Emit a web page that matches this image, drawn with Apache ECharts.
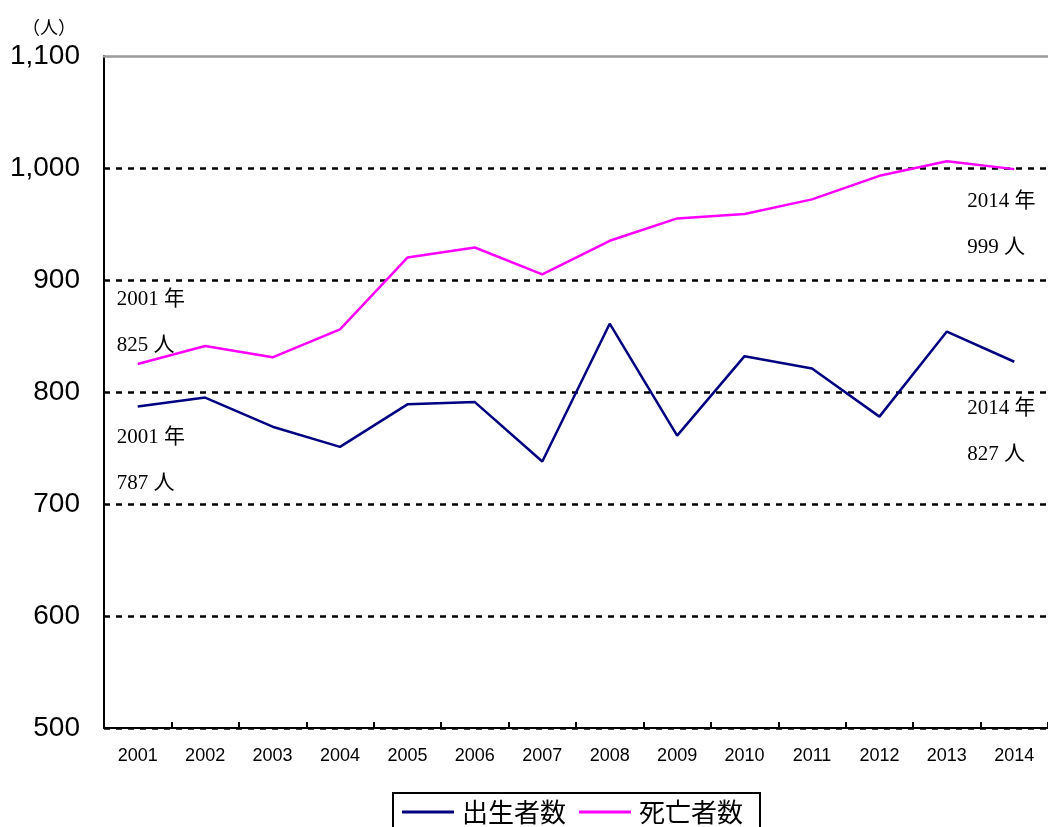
<!DOCTYPE html>
<html>
<head>
<meta charset="utf-8">
<script src="https://cdn.jsdelivr.net/npm/echarts@6/dist/echarts.min.js"></script>
<style>
  html, body { margin: 0; padding: 0; background: #fff; }
  #chart { width: 1048px; height: 827px; }
</style>
</head>
<body>
<div id="chart"></div>
<script>
// 年
const years = ['2001', '2002', '2003', '2004', '2005', '2006', '2007',
  '2008', '2009', '2010', '2011', '2012', '2013', '2014'];
// 出生者数
const births = [787, 795, 769, 751, 789, 791, 738, 861, 761, 832, 821, 778, 854, 827];
// 死亡者数
const deaths = [825, 841, 831, 856, 920, 929, 905, 935, 955, 959, 972, 993, 1006, 999];
const yTicks = [500, 600, 700, 800, 900, 1000, 1100];

const chart = echarts.init(document.getElementById('chart'));

const noteFont = {
  fontFamily: "'Liberation Serif', 'Noto Sans CJK JP', serif",
  fontSize: 21,
  color: '#000',
  lineHeight: 46
};

// 最初と最後の点に注記を付ける
function withNotes(values, first, last) {
  return values.map((v, i) => {
    let off = null;
    if (i === 0) off = first;
    if (i === values.length - 1) off = last;
    if (!off) return v;
    return {
      value: v,
      label: Object.assign({
        show: true, position: 'inside', align: 'left', verticalAlign: 'middle',
        offset: off, formatter: years[i] + ' 年\n' + v + ' 人'
      }, noteFont)
    };
  });
}

const option = {
  animation: false,
  title: {
    text: '（人）',
    left: 22,
    top: 18,
    padding: 0,
    textStyle: { fontSize: 18, fontWeight: 'normal', color: '#000', fontFamily: "'Noto Sans CJK JP', sans-serif" }
  },
  grid: { left: 104, top: 56, width: 948, bottom: 99, containLabel: false },
  legend: {
    left: 393,
    top: 793,
    itemWidth: 52,
    itemHeight: 3,
    itemGap: 13,
    icon: 'rect',
    padding: [6, 17, 8, 9],
    borderColor: '#000',
    borderWidth: 2,
    textStyle: { fontSize: 26, color: '#000', fontFamily: "'Noto Sans CJK JP', sans-serif", padding: [0, 0, 0, 3] },
    data: ['出生者数', '死亡者数']
  },
  xAxis: [
    {
      type: 'category',
      data: years,
      axisLine: { lineStyle: { color: '#000', width: 2 } },
      axisTick: { show: true, inside: true, length: 6, lineStyle: { color: '#000', width: 2 } },
      axisLabel: { margin: 19, fontSize: 18, color: '#000', fontFamily: "'Liberation Sans', Arial, sans-serif" }
    },
    {
      // 上端の灰色の線
      type: 'category',
      data: years,
      position: 'top',
      axisLine: { show: true, lineStyle: { color: '#9a9a9a', width: 2.5 } },
      axisTick: { show: false },
      axisLabel: { show: false }
    }
  ],
  yAxis: {
    type: 'value',
    min: yTicks[0],
    max: yTicks[yTicks.length - 1],
    interval: 100,
    axisLine: { show: true, lineStyle: { color: '#000', width: 2 } },
    axisTick: { show: false },
    axisLabel: {
      margin: 24,
      fontSize: 28,
      color: '#000',
      fontFamily: "'Liberation Sans', Arial, sans-serif",
      formatter: v => v.toLocaleString('en-US')
    },
    splitLine: {
      show: true,
      lineStyle: {
        color: ['#000', '#000', '#000', '#000', '#000', '#000', 'rgba(0,0,0,0)'],
        width: 2.5,
        type: [6, 6]
      }
    }
  },
  series: [
    {
      name: '出生者数',
      type: 'line',
      data: withNotes(births, [-21, 54], [-47, 70]),
      symbol: 'circle',
      symbolSize: 0,
      color: '#000080',
      lineStyle: { width: 2.5, color: '#000080' }
    },
    {
      name: '死亡者数',
      type: 'line',
      data: withNotes(deaths, [-21, -42], [-47, 55]),
      symbol: 'circle',
      symbolSize: 0,
      color: '#ff00ff',
      lineStyle: { width: 2.5, color: '#ff00ff' }
    }
  ]
};

chart.setOption(option);
window.addEventListener('resize', () => chart.resize());
</script>
</body>
</html>
